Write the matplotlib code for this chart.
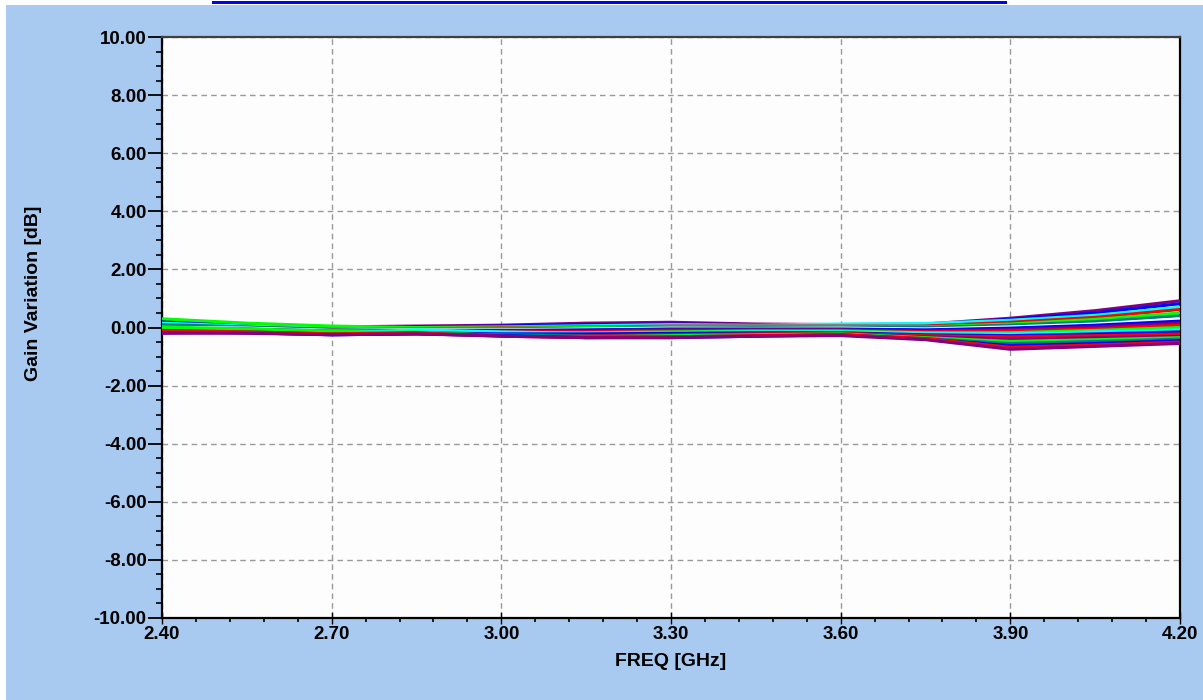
import matplotlib.pyplot as plt
from matplotlib.patches import Rectangle
from matplotlib.ticker import MultipleLocator, FormatStrFormatter

# ----------------------------
# data (gain variation in dB)
# ----------------------------
freq = [2.40, 2.55, 2.70, 2.85, 3.00, 3.15, 3.30, 3.45, 3.60, 3.75, 3.90, 4.05, 4.20]

c01 = [0.25, 0.12, 0.02, 0.05, 0.08, 0.15, 0.18, 0.12, 0.10, 0.12, 0.32, 0.58, 0.92]
c02 = [0.20, 0.10, 0.00, 0.02, 0.05, 0.10, 0.12, 0.10, 0.08, 0.10, 0.28, 0.50, 0.82]
c03 = [0.15, 0.05, -0.02, 0.00, 0.02, 0.06, 0.10, 0.08, 0.12, 0.14, 0.25, 0.42, 0.70]
c04 = [0.05, 0.00, -0.05, -0.02, 0.00, 0.02, 0.05, 0.05, 0.05, 0.05, 0.18, 0.35, 0.62]
c05 = [0.30, 0.15, 0.05, 0.00, -0.02, 0.00, 0.02, 0.02, 0.02, 0.02, 0.12, 0.28, 0.50]
c06 = [0.10, 0.02, -0.08, -0.05, -0.05, -0.03, 0.00, 0.00, 0.00, 0.00, 0.08, 0.20, 0.40]
c07 = [0.00, -0.02, -0.10, -0.08, -0.08, -0.05, -0.02, -0.03, -0.02, -0.05, 0.02, 0.12, 0.30]
c08 = [-0.05, -0.05, -0.12, -0.10, -0.10, -0.08, -0.05, -0.05, -0.05, -0.08, -0.02, 0.08, 0.22]
c09 = [-0.10, -0.08, -0.15, -0.12, -0.12, -0.12, -0.08, -0.08, -0.08, -0.12, -0.08, 0.02, 0.15]
c10 = [-0.08, -0.10, -0.18, -0.15, -0.15, -0.15, -0.12, -0.10, -0.10, -0.15, -0.12, -0.05, 0.08]
c11 = [0.02, -0.05, -0.12, -0.12, -0.20, -0.18, -0.15, -0.12, -0.12, -0.18, -0.18, -0.10, 0.00]
c12 = [-0.12, -0.12, -0.20, -0.08, -0.15, -0.20, -0.18, -0.15, -0.15, -0.20, -0.22, -0.15, -0.08]
c13 = [-0.15, -0.15, -0.22, -0.18, -0.22, -0.22, -0.20, -0.18, -0.18, -0.25, -0.28, -0.22, -0.15]
c14 = [-0.18, -0.12, -0.20, -0.20, -0.25, -0.28, -0.25, -0.22, -0.20, -0.28, -0.32, -0.28, -0.22]
c15 = [-0.20, -0.18, -0.25, -0.22, -0.28, -0.30, -0.30, -0.25, -0.22, -0.32, -0.40, -0.35, -0.30]
c16 = [-0.05, -0.10, -0.18, -0.15, -0.28, -0.32, -0.28, -0.25, -0.22, -0.35, -0.48, -0.42, -0.35]
c17 = [-0.12, -0.15, -0.22, -0.20, -0.25, -0.30, -0.32, -0.28, -0.25, -0.38, -0.55, -0.48, -0.40]
c18 = [-0.15, -0.18, -0.25, -0.22, -0.28, -0.35, -0.35, -0.30, -0.25, -0.40, -0.62, -0.55, -0.45]
c19 = [-0.10, -0.15, -0.22, -0.18, -0.30, -0.35, -0.32, -0.28, -0.25, -0.38, -0.68, -0.60, -0.50]
c20 = [-0.18, -0.20, -0.25, -0.22, -0.30, -0.35, -0.35, -0.30, -0.28, -0.42, -0.75, -0.65, -0.55]

curves = [c01, c02, c03, c04, c05, c06, c07, c08, c09, c10,
          c11, c12, c13, c14, c15, c16, c17, c18, c19, c20]
colors = ['#800080', '#0000FF', '#00FFFF', '#FF0000', '#00FF00',
          '#008080', '#FFFFFF', '#0000FF', '#800080', '#FF0000',
          '#00FF00', '#00FFFF', '#0000FF', '#FF0000', '#800080',
          '#00FF00', '#008080', '#0000FF', '#FF0000', '#800080']

BG = '#A8CAF0'
plt.rcParams['font.family'] = ['Liberation Sans', 'DejaVu Sans']
plt.rcParams['font.weight'] = 'bold'

fig = plt.figure(figsize=(12.03, 7.00), dpi=100, facecolor=BG)
# white strips at top / left edge and the blue title bar
fig.patches.append(Rectangle((0, 1 - 5 / 700), 1, 5 / 700, transform=fig.transFigure,
                             facecolor='white', edgecolor='none', zorder=0))
fig.patches.append(Rectangle((0, 0), 6 / 1203, 1, transform=fig.transFigure,
                             facecolor='white', edgecolor='none', zorder=0))
fig.patches.append(Rectangle((212 / 1203, 1 - 4 / 700), 795 / 1203, 3 / 700, transform=fig.transFigure,
                             facecolor='#0000FF', edgecolor='none', zorder=1))

ax = fig.add_axes([162 / 1203, 1 - 618 / 700, 1018 / 1203, 581 / 700])
ax.set_facecolor('#FDFDFD')

for y, c in zip(curves, colors):
    ax.plot(freq, y, color=c, lw=2.2, solid_capstyle='butt', zorder=3)

ax.set_xlim(2.40, 4.20)
ax.set_ylim(-10, 10)
ax.xaxis.set_major_locator(MultipleLocator(0.30))
ax.xaxis.set_minor_locator(MultipleLocator(0.06))
ax.yaxis.set_major_locator(MultipleLocator(2.0))
ax.yaxis.set_minor_locator(MultipleLocator(0.5))
ax.xaxis.set_major_formatter(FormatStrFormatter('%.2f'))
ax.yaxis.set_major_formatter(FormatStrFormatter('%.2f'))

ax.grid(True, which='major', color='#999999', linestyle=(0, (4, 3)), lw=1.0, zorder=1)

ax.tick_params(axis='y', which='major', direction='out', length=10, width=1.3, pad=1,
               labelsize=13.5, colors='black')
ax.tick_params(axis='y', which='minor', direction='out', length=4.5, width=1.2)
ax.tick_params(axis='x', which='major', direction='inout', length=8, width=1.0, pad=2,
               labelsize=13.5, colors='black')
ax.tick_params(axis='x', which='minor', direction='out', length=3, width=1.2)

for side in ['bottom', 'left', 'right']:
    ax.spines[side].set_linewidth(1.6)
    ax.spines[side].set_color('black')
ax.spines['top'].set_linewidth(1.6)
ax.spines['top'].set_color('#404040')

for lab in ax.get_xticklabels() + ax.get_yticklabels():
    lab.set_fontweight('bold')

fig.text(671 / 1203, 1 - 661 / 700, 'FREQ [GHz]', ha='center', va='center',
         fontsize=14, fontweight='bold')
fig.text(34 / 1203, 1 - 293 / 700, 'Gain Variation [dB]', ha='center', va='center',
         rotation=90, fontsize=14, fontweight='bold')

fig.savefig('out.png', dpi=100, facecolor=BG)
